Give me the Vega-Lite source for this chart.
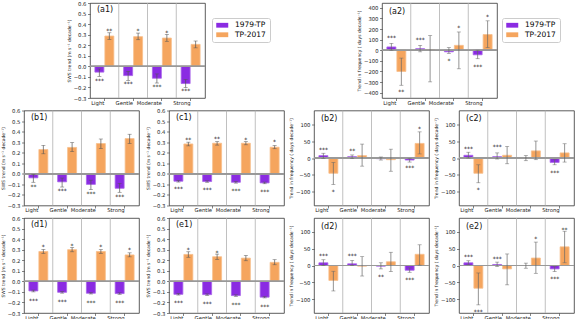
{
"$schema": "https://vega.github.io/schema/vega-lite/v6.json",
"background": "white",
"padding": {"left": 0, "top": 0, "right": 2, "bottom": 0},
"spacing": 1.5,
"resolve": {"scale": {"color": "independent", "stroke": "independent"}, "legend": {"color": "independent"}},
"config": {
  "font": "DejaVu Sans",
  "view": {"stroke": "#333", "strokeWidth": 0.8},
  "axis": {"labelFontSize": 5.3, "titleFontSize": 4.5, "titleFontWeight": "normal", "tickSize": 2.5, "tickWidth": 0.6, "tickColor": "#333", "labelColor": "#222", "titleColor": "#222", "domain": false, "grid": false, "labelPadding": 1.5, "titlePadding": 1.5, "labelOverlap": false, "labelFlush": false, "labelBound": false},
  "title": {"anchor": "start", "frame": "group", "offset": -13, "dx": 7, "fontSize": 8, "fontWeight": "normal", "color": "#111"},
  "legend": {"title": null, "symbolType": "M-1,-0.8H3V0.8H-1Z", "symbolSize": 36, "symbolStrokeWidth": 0, "labelFontSize": 7.5, "labelOffset": 12, "padding": 3.5, "strokeColor": "#ccc", "cornerRadius": 2, "fillColor": "white", "rowPadding": 0.5}
},
"vconcat": [
{"hconcat": [
  {"width": 66, "height": 95, "view": {"stroke": null}, "data": {"values": []}, "mark": "point"},
  {"width": 115, "height": 95, "title": {"text": "(a1)"},
   "data": {"values": [
    {"cat":"Light","period":"1979-TP","v":-0.055,"lo":-0.095,"hi":-0.025,"star":"***","sa":-0.125},
    {"cat":"Light","period":"TP-2017","v":0.287,"lo":0.255,"hi":0.318,"star":"**","sa":0.345},
    {"cat":"Gentle","period":"1979-TP","v":-0.088,"lo":-0.133,"hi":-0.048,"star":"***","sa":-0.15},
    {"cat":"Gentle","period":"TP-2017","v":0.281,"lo":0.252,"hi":0.315,"star":"*","sa":0.345},
    {"cat":"Moderate","period":"1979-TP","v":-0.113,"lo":-0.158,"hi":-0.072,"star":"***","sa":-0.18},
    {"cat":"Moderate","period":"TP-2017","v":0.268,"lo":0.237,"hi":0.302,"star":"*","sa":0.33},
    {"cat":"Strong","period":"1979-TP","v":-0.163,"lo":-0.2,"hi":-0.125,"star":"***","sa":-0.222},
    {"cat":"Strong","period":"TP-2017","v":0.208,"lo":0.175,"hi":0.24,"star":"","sa":null}]},
   "layer": [
    {"transform":[{"filter":"datum.period==='1979-TP' && datum.cat!=='Light'"}],"mark":{"type":"rule","color":"#b0b0b0","strokeWidth":0.8},"encoding":{"x":{"field":"cat","type":"nominal","sort":["Light","Gentle","Moderate","Strong"],"bandPosition":0}}},
    {"mark":{"type":"bar","strokeWidth":0.8},"encoding":{
      "x":{"field":"cat","type":"nominal","sort":["Light","Gentle","Moderate","Strong"],"scale":{"paddingInner":0,"paddingOuter":0},"axis":{"title":null,"labelAngle":0,"labelOverlap":false}},
      "xOffset":{"field":"period","type":"nominal","scale":{"paddingInner":0.1,"paddingOuter":0.49}},
      "y":{"field":"v","type":"quantitative","scale":{"domain":[-0.3,0.6],"nice":false,"zero":false},"axis":{"title":"SWS trend (m s⁻¹ decade⁻¹)","values":[-0.3,-0.2,-0.1,0,0.1,0.2,0.3,0.4,0.5,0.6],"tickCount":20,"format":".1f","labelOverlap":false}},
      "color":{"field":"period","type":"nominal","scale":{"domain":["1979-TP","TP-2017"],"range":["#8a2be2","#f5a55e"]},"legend":{"orient":"none","legendX":122,"legendY":15}},
      "stroke":{"field":"period","type":"nominal","scale":{"domain":["1979-TP","TP-2017"],"range":["#a865ea","#f8bf8c"]},"legend":null}}},
    {"mark":{"type":"rule","color":"#999","strokeWidth":1},"encoding":{"y":{"datum":0,"type":"quantitative"}}},
    {"mark":{"type":"rule","color":"#555","strokeWidth":0.7},"encoding":{"x":{"field":"cat","type":"nominal","sort":["Light","Gentle","Moderate","Strong"]},"xOffset":{"field":"period","type":"nominal"},"y":{"field":"lo","type":"quantitative"},"y2":{"field":"hi"}}},
    {"mark":{"type":"tick","orient":"horizontal","size":4,"thickness":0.7,"color":"#555"},"encoding":{"x":{"field":"cat","type":"nominal","sort":["Light","Gentle","Moderate","Strong"]},"xOffset":{"field":"period","type":"nominal"},"y":{"field":"lo","type":"quantitative"}}},
    {"mark":{"type":"tick","orient":"horizontal","size":4,"thickness":0.7,"color":"#555"},"encoding":{"x":{"field":"cat","type":"nominal","sort":["Light","Gentle","Moderate","Strong"]},"xOffset":{"field":"period","type":"nominal"},"y":{"field":"hi","type":"quantitative"}}},
    {"transform":[{"filter":"datum.star"}],"mark":{"type":"text","fontSize":6,"baseline":"middle","dy":1.5,"color":"#111"},"encoding":{"x":{"field":"cat","type":"nominal","sort":["Light","Gentle","Moderate","Strong"]},"xOffset":{"field":"period","type":"nominal"},"y":{"field":"sa","type":"quantitative"},"text":{"field":"star"}}}
   ]},
  {"width": 177, "height": 95, "view": {"stroke": null}, "data": {"values": []}, "mark": "point"},
  {"width": 115, "height": 95, "title": {"text": "(a2)"},
   "data": {"values": [
    {"cat":"Light","period":"1979-TP","v":31,"lo":0,"hi":65,"star":"***","sa":126},
    {"cat":"Light","period":"TP-2017","v":-200,"lo":-330,"hi":-74,"star":"**","sa":-380},
    {"cat":"Gentle","period":"1979-TP","v":15,"lo":-15,"hi":46,"star":"***","sa":108},
    {"cat":"Gentle","period":"TP-2017","v":6,"lo":-298,"hi":138,"star":"","sa":null},
    {"cat":"Moderate","period":"1979-TP","v":-15,"lo":-30,"hi":25,"star":"*","sa":-83},
    {"cat":"Moderate","period":"TP-2017","v":46,"lo":-175,"hi":172,"star":"*","sa":225},
    {"cat":"Strong","period":"1979-TP","v":-43,"lo":-80,"hi":0,"star":"***","sa":-145},
    {"cat":"Strong","period":"TP-2017","v":148,"lo":25,"hi":277,"star":"*","sa":326}]},
   "layer": [
    {"transform":[{"filter":"datum.period==='1979-TP' && datum.cat!=='Light'"}],"mark":{"type":"rule","color":"#b0b0b0","strokeWidth":0.8},"encoding":{"x":{"field":"cat","type":"nominal","sort":["Light","Gentle","Moderate","Strong"],"bandPosition":0}}},
    {"mark":{"type":"bar","strokeWidth":0.8},"encoding":{
      "x":{"field":"cat","type":"nominal","sort":["Light","Gentle","Moderate","Strong"],"scale":{"paddingInner":0,"paddingOuter":0},"axis":{"title":null,"labelAngle":0,"labelOverlap":false}},
      "xOffset":{"field":"period","type":"nominal","scale":{"paddingInner":0.1,"paddingOuter":0.49}},
      "y":{"field":"v","type":"quantitative","scale":{"domain":[-450,445],"nice":false,"zero":false},"axis":{"title":"Trend in frequency ( days decade⁻¹)","values":[-400,-300,-200,-100,0,100,200,300,400],"tickCount":20,"format":"d","labelOverlap":false}},
      "color":{"field":"period","type":"nominal","scale":{"domain":["1979-TP","TP-2017"],"range":["#8a2be2","#f5a55e"]},"legend":{"orient":"none","legendX":120,"legendY":15}},
      "stroke":{"field":"period","type":"nominal","scale":{"domain":["1979-TP","TP-2017"],"range":["#a865ea","#f8bf8c"]},"legend":null}}},
    {"mark":{"type":"rule","color":"#999","strokeWidth":1},"encoding":{"y":{"datum":0,"type":"quantitative"}}},
    {"mark":{"type":"rule","color":"#666","strokeWidth":0.7},"encoding":{"x":{"field":"cat","type":"nominal","sort":["Light","Gentle","Moderate","Strong"]},"xOffset":{"field":"period","type":"nominal"},"y":{"field":"lo","type":"quantitative"},"y2":{"field":"hi"}}},
    {"mark":{"type":"tick","orient":"horizontal","size":4,"thickness":0.7,"color":"#666"},"encoding":{"x":{"field":"cat","type":"nominal","sort":["Light","Gentle","Moderate","Strong"]},"xOffset":{"field":"period","type":"nominal"},"y":{"field":"lo","type":"quantitative"}}},
    {"mark":{"type":"tick","orient":"horizontal","size":4,"thickness":0.7,"color":"#666"},"encoding":{"x":{"field":"cat","type":"nominal","sort":["Light","Gentle","Moderate","Strong"]},"xOffset":{"field":"period","type":"nominal"},"y":{"field":"hi","type":"quantitative"}}},
    {"transform":[{"filter":"datum.star"}],"mark":{"type":"text","fontSize":6,"baseline":"middle","dy":1.5,"color":"#111"},"encoding":{"x":{"field":"cat","type":"nominal","sort":["Light","Gentle","Moderate","Strong"]},"xOffset":{"field":"period","type":"nominal"},"y":{"field":"sa","type":"quantitative"},"text":{"field":"star"}}}
   ]}
 ], "spacing": 0, "bounds": "flush", "resolve": {"scale": {"color": "independent", "stroke": "independent"}, "legend": {"color": "independent"}}},
{"hconcat": [
  {"width": 115, "height": 95, "title": {"text": "(b1)"},
   "data": {"values": [
    {"cat":"Light","period":"1979-TP","v":-0.038,"lo":-0.08,"hi":-0.006,"star":"**","sa":-0.111},
    {"cat":"Light","period":"TP-2017","v":0.23,"lo":0.19,"hi":0.27,"star":"","sa":null},
    {"cat":"Gentle","period":"1979-TP","v":-0.076,"lo":-0.125,"hi":-0.04,"star":"***","sa":-0.15},
    {"cat":"Gentle","period":"TP-2017","v":0.25,"lo":0.21,"hi":0.296,"star":"","sa":null},
    {"cat":"Moderate","period":"1979-TP","v":-0.1,"lo":-0.15,"hi":-0.06,"star":"***","sa":-0.175},
    {"cat":"Moderate","period":"TP-2017","v":0.287,"lo":0.24,"hi":0.33,"star":"","sa":null},
    {"cat":"Strong","period":"1979-TP","v":-0.137,"lo":-0.175,"hi":-0.09,"star":"***","sa":-0.207},
    {"cat":"Strong","period":"TP-2017","v":0.334,"lo":0.287,"hi":0.375,"star":"","sa":null}]},
   "layer": [
    {"transform":[{"filter":"datum.period==='1979-TP' && datum.cat!=='Light'"}],"mark":{"type":"rule","color":"#b0b0b0","strokeWidth":0.8},"encoding":{"x":{"field":"cat","type":"nominal","sort":["Light","Gentle","Moderate","Strong"],"bandPosition":0}}},
    {"mark":{"type":"bar","strokeWidth":0.8},"encoding":{
      "x":{"field":"cat","type":"nominal","sort":["Light","Gentle","Moderate","Strong"],"scale":{"paddingInner":0,"paddingOuter":0},"axis":{"title":null,"labelAngle":0,"labelOverlap":false}},
      "xOffset":{"field":"period","type":"nominal","scale":{"paddingInner":0.1,"paddingOuter":0.49}},
      "y":{"field":"v","type":"quantitative","scale":{"domain":[-0.3,0.6],"nice":false,"zero":false},"axis":{"title":"SWS trend (m s⁻¹ decade⁻¹)","values":[-0.3,-0.2,-0.1,0,0.1,0.2,0.3,0.4,0.5,0.6],"tickCount":20,"format":".1f","labelOverlap":false}},
      "color":{"field":"period","type":"nominal","scale":{"domain":["1979-TP","TP-2017"],"range":["#8a2be2","#f5a55e"]},"legend":null},
      "stroke":{"field":"period","type":"nominal","scale":{"domain":["1979-TP","TP-2017"],"range":["#a865ea","#f8bf8c"]},"legend":null}}},
    {"mark":{"type":"rule","color":"#999","strokeWidth":1},"encoding":{"y":{"datum":0,"type":"quantitative"}}},
    {"mark":{"type":"rule","color":"#555","strokeWidth":0.7},"encoding":{"x":{"field":"cat","type":"nominal","sort":["Light","Gentle","Moderate","Strong"]},"xOffset":{"field":"period","type":"nominal"},"y":{"field":"lo","type":"quantitative"},"y2":{"field":"hi"}}},
    {"mark":{"type":"tick","orient":"horizontal","size":4,"thickness":0.7,"color":"#555"},"encoding":{"x":{"field":"cat","type":"nominal","sort":["Light","Gentle","Moderate","Strong"]},"xOffset":{"field":"period","type":"nominal"},"y":{"field":"lo","type":"quantitative"}}},
    {"mark":{"type":"tick","orient":"horizontal","size":4,"thickness":0.7,"color":"#555"},"encoding":{"x":{"field":"cat","type":"nominal","sort":["Light","Gentle","Moderate","Strong"]},"xOffset":{"field":"period","type":"nominal"},"y":{"field":"hi","type":"quantitative"}}},
    {"transform":[{"filter":"datum.star"}],"mark":{"type":"text","fontSize":6,"baseline":"middle","dy":1.5,"color":"#111"},"encoding":{"x":{"field":"cat","type":"nominal","sort":["Light","Gentle","Moderate","Strong"]},"xOffset":{"field":"period","type":"nominal"},"y":{"field":"sa","type":"quantitative"},"text":{"field":"star"}}}
   ]},
  {"width": 115, "height": 95, "title": {"text": "(c1)"},
   "data": {"values": [
    {"cat":"Light","period":"1979-TP","v":-0.07,"lo":-0.078,"hi":-0.062,"star":"***","sa":-0.134},
    {"cat":"Light","period":"TP-2017","v":0.283,"lo":0.265,"hi":0.3,"star":"**","sa":0.338},
    {"cat":"Gentle","period":"1979-TP","v":-0.073,"lo":-0.08,"hi":-0.066,"star":"***","sa":-0.143},
    {"cat":"Gentle","period":"TP-2017","v":0.29,"lo":0.272,"hi":0.305,"star":"**","sa":0.344},
    {"cat":"Moderate","period":"1979-TP","v":-0.08,"lo":-0.088,"hi":-0.072,"star":"***","sa":-0.15},
    {"cat":"Moderate","period":"TP-2017","v":0.29,"lo":0.275,"hi":0.305,"star":"*","sa":0.338},
    {"cat":"Strong","period":"1979-TP","v":-0.086,"lo":-0.094,"hi":-0.078,"star":"***","sa":-0.156},
    {"cat":"Strong","period":"TP-2017","v":0.252,"lo":0.238,"hi":0.268,"star":"*","sa":0.312}]},
   "layer": [
    {"transform":[{"filter":"datum.period==='1979-TP' && datum.cat!=='Light'"}],"mark":{"type":"rule","color":"#b0b0b0","strokeWidth":0.8},"encoding":{"x":{"field":"cat","type":"nominal","sort":["Light","Gentle","Moderate","Strong"],"bandPosition":0}}},
    {"mark":{"type":"bar","strokeWidth":0.8},"encoding":{
      "x":{"field":"cat","type":"nominal","sort":["Light","Gentle","Moderate","Strong"],"scale":{"paddingInner":0,"paddingOuter":0},"axis":{"title":null,"labelAngle":0,"labelOverlap":false}},
      "xOffset":{"field":"period","type":"nominal","scale":{"paddingInner":0.1,"paddingOuter":0.49}},
      "y":{"field":"v","type":"quantitative","scale":{"domain":[-0.3,0.6],"nice":false,"zero":false},"axis":{"title":"SWS trend (m s⁻¹ decade⁻¹)","values":[-0.3,-0.2,-0.1,0,0.1,0.2,0.3,0.4,0.5,0.6],"tickCount":20,"format":".1f","labelOverlap":false}},
      "color":{"field":"period","type":"nominal","scale":{"domain":["1979-TP","TP-2017"],"range":["#8a2be2","#f5a55e"]},"legend":null},
      "stroke":{"field":"period","type":"nominal","scale":{"domain":["1979-TP","TP-2017"],"range":["#a865ea","#f8bf8c"]},"legend":null}}},
    {"mark":{"type":"rule","color":"#999","strokeWidth":1},"encoding":{"y":{"datum":0,"type":"quantitative"}}},
    {"mark":{"type":"rule","color":"#555","strokeWidth":0.7},"encoding":{"x":{"field":"cat","type":"nominal","sort":["Light","Gentle","Moderate","Strong"]},"xOffset":{"field":"period","type":"nominal"},"y":{"field":"lo","type":"quantitative"},"y2":{"field":"hi"}}},
    {"mark":{"type":"tick","orient":"horizontal","size":4,"thickness":0.7,"color":"#555"},"encoding":{"x":{"field":"cat","type":"nominal","sort":["Light","Gentle","Moderate","Strong"]},"xOffset":{"field":"period","type":"nominal"},"y":{"field":"lo","type":"quantitative"}}},
    {"mark":{"type":"tick","orient":"horizontal","size":4,"thickness":0.7,"color":"#555"},"encoding":{"x":{"field":"cat","type":"nominal","sort":["Light","Gentle","Moderate","Strong"]},"xOffset":{"field":"period","type":"nominal"},"y":{"field":"hi","type":"quantitative"}}},
    {"transform":[{"filter":"datum.star"}],"mark":{"type":"text","fontSize":6,"baseline":"middle","dy":1.5,"color":"#111"},"encoding":{"x":{"field":"cat","type":"nominal","sort":["Light","Gentle","Moderate","Strong"]},"xOffset":{"field":"period","type":"nominal"},"y":{"field":"sa","type":"quantitative"},"text":{"field":"star"}}}
   ]},
  {"width": 115, "height": 95, "title": {"text": "(b2)"},
   "data": {"values": [
    {"cat":"Light","period":"1979-TP","v":7,"lo":-1,"hi":14,"star":"***","sa":27},
    {"cat":"Light","period":"TP-2017","v":-45,"lo":-78,"hi":-13,"star":"*","sa":-96},
    {"cat":"Gentle","period":"1979-TP","v":4,"lo":-2,"hi":9,"star":"**","sa":25},
    {"cat":"Gentle","period":"TP-2017","v":7,"lo":-24,"hi":41,"star":"","sa":null},
    {"cat":"Moderate","period":"1979-TP","v":-2,"lo":-6,"hi":3,"star":"","sa":null},
    {"cat":"Moderate","period":"TP-2017","v":-5,"lo":-39,"hi":26,"star":"","sa":null},
    {"cat":"Strong","period":"1979-TP","v":-6,"lo":-12,"hi":-2,"star":"***","sa":-25},
    {"cat":"Strong","period":"TP-2017","v":43,"lo":12,"hi":77,"star":"*","sa":90}]},
   "layer": [
    {"transform":[{"filter":"datum.period==='1979-TP' && datum.cat!=='Light'"}],"mark":{"type":"rule","color":"#b0b0b0","strokeWidth":0.8},"encoding":{"x":{"field":"cat","type":"nominal","sort":["Light","Gentle","Moderate","Strong"],"bandPosition":0}}},
    {"mark":{"type":"bar","strokeWidth":0.8},"encoding":{
      "x":{"field":"cat","type":"nominal","sort":["Light","Gentle","Moderate","Strong"],"scale":{"paddingInner":0,"paddingOuter":0},"axis":{"title":null,"labelAngle":0,"labelOverlap":false}},
      "xOffset":{"field":"period","type":"nominal","scale":{"paddingInner":0.1,"paddingOuter":0.49}},
      "y":{"field":"v","type":"quantitative","scale":{"domain":[-140,140],"nice":false,"zero":false},"axis":{"title":"Trend in frequency ( days decade⁻¹)","values":[-100,-50,0,50,100],"tickCount":20,"format":"d","labelOverlap":false}},
      "color":{"field":"period","type":"nominal","scale":{"domain":["1979-TP","TP-2017"],"range":["#8a2be2","#f5a55e"]},"legend":null},
      "stroke":{"field":"period","type":"nominal","scale":{"domain":["1979-TP","TP-2017"],"range":["#a865ea","#f8bf8c"]},"legend":null}}},
    {"mark":{"type":"rule","color":"#999","strokeWidth":1},"encoding":{"y":{"datum":0,"type":"quantitative"}}},
    {"mark":{"type":"rule","color":"#666","strokeWidth":0.7},"encoding":{"x":{"field":"cat","type":"nominal","sort":["Light","Gentle","Moderate","Strong"]},"xOffset":{"field":"period","type":"nominal"},"y":{"field":"lo","type":"quantitative"},"y2":{"field":"hi"}}},
    {"mark":{"type":"tick","orient":"horizontal","size":4,"thickness":0.7,"color":"#666"},"encoding":{"x":{"field":"cat","type":"nominal","sort":["Light","Gentle","Moderate","Strong"]},"xOffset":{"field":"period","type":"nominal"},"y":{"field":"lo","type":"quantitative"}}},
    {"mark":{"type":"tick","orient":"horizontal","size":4,"thickness":0.7,"color":"#666"},"encoding":{"x":{"field":"cat","type":"nominal","sort":["Light","Gentle","Moderate","Strong"]},"xOffset":{"field":"period","type":"nominal"},"y":{"field":"hi","type":"quantitative"}}},
    {"transform":[{"filter":"datum.star"}],"mark":{"type":"text","fontSize":6,"baseline":"middle","dy":1.5,"color":"#111"},"encoding":{"x":{"field":"cat","type":"nominal","sort":["Light","Gentle","Moderate","Strong"]},"xOffset":{"field":"period","type":"nominal"},"y":{"field":"sa","type":"quantitative"},"text":{"field":"star"}}}
   ]},
  {"width": 115, "height": 95, "title": {"text": "(c2)"},
   "data": {"values": [
    {"cat":"Light","period":"1979-TP","v":8,"lo":0,"hi":17,"star":"***","sa":32},
    {"cat":"Light","period":"TP-2017","v":-45,"lo":-73,"hi":-20,"star":"*","sa":-91},
    {"cat":"Gentle","period":"1979-TP","v":4,"lo":-3,"hi":15,"star":"***","sa":36},
    {"cat":"Gentle","period":"TP-2017","v":8,"lo":-17,"hi":34,"star":"","sa":null},
    {"cat":"Moderate","period":"1979-TP","v":0,"lo":-8,"hi":7,"star":"","sa":null},
    {"cat":"Moderate","period":"TP-2017","v":21,"lo":-5,"hi":50,"star":"","sa":null},
    {"cat":"Strong","period":"1979-TP","v":-13,"lo":-20,"hi":-5,"star":"***","sa":-41},
    {"cat":"Strong","period":"TP-2017","v":15,"lo":-12,"hi":42,"star":"","sa":null}]},
   "layer": [
    {"transform":[{"filter":"datum.period==='1979-TP' && datum.cat!=='Light'"}],"mark":{"type":"rule","color":"#b0b0b0","strokeWidth":0.8},"encoding":{"x":{"field":"cat","type":"nominal","sort":["Light","Gentle","Moderate","Strong"],"bandPosition":0}}},
    {"mark":{"type":"bar","strokeWidth":0.8},"encoding":{
      "x":{"field":"cat","type":"nominal","sort":["Light","Gentle","Moderate","Strong"],"scale":{"paddingInner":0,"paddingOuter":0},"axis":{"title":null,"labelAngle":0,"labelOverlap":false}},
      "xOffset":{"field":"period","type":"nominal","scale":{"paddingInner":0.1,"paddingOuter":0.49}},
      "y":{"field":"v","type":"quantitative","scale":{"domain":[-140,140],"nice":false,"zero":false},"axis":{"title":"Trend in frequency ( days decade⁻¹)","values":[-100,-50,0,50,100],"tickCount":20,"format":"d","labelOverlap":false}},
      "color":{"field":"period","type":"nominal","scale":{"domain":["1979-TP","TP-2017"],"range":["#8a2be2","#f5a55e"]},"legend":null},
      "stroke":{"field":"period","type":"nominal","scale":{"domain":["1979-TP","TP-2017"],"range":["#a865ea","#f8bf8c"]},"legend":null}}},
    {"mark":{"type":"rule","color":"#999","strokeWidth":1},"encoding":{"y":{"datum":0,"type":"quantitative"}}},
    {"mark":{"type":"rule","color":"#666","strokeWidth":0.7},"encoding":{"x":{"field":"cat","type":"nominal","sort":["Light","Gentle","Moderate","Strong"]},"xOffset":{"field":"period","type":"nominal"},"y":{"field":"lo","type":"quantitative"},"y2":{"field":"hi"}}},
    {"mark":{"type":"tick","orient":"horizontal","size":4,"thickness":0.7,"color":"#666"},"encoding":{"x":{"field":"cat","type":"nominal","sort":["Light","Gentle","Moderate","Strong"]},"xOffset":{"field":"period","type":"nominal"},"y":{"field":"lo","type":"quantitative"}}},
    {"mark":{"type":"tick","orient":"horizontal","size":4,"thickness":0.7,"color":"#666"},"encoding":{"x":{"field":"cat","type":"nominal","sort":["Light","Gentle","Moderate","Strong"]},"xOffset":{"field":"period","type":"nominal"},"y":{"field":"hi","type":"quantitative"}}},
    {"transform":[{"filter":"datum.star"}],"mark":{"type":"text","fontSize":6,"baseline":"middle","dy":1.5,"color":"#111"},"encoding":{"x":{"field":"cat","type":"nominal","sort":["Light","Gentle","Moderate","Strong"]},"xOffset":{"field":"period","type":"nominal"},"y":{"field":"sa","type":"quantitative"},"text":{"field":"star"}}}
   ]}
 ], "spacing": 30, "bounds": "flush", "resolve": {"scale": {"color": "independent", "stroke": "independent"}, "legend": {"color": "independent"}}},
{"hconcat": [
  {"width": 115, "height": 95, "title": {"text": "(d1)"},
   "data": {"values": [
    {"cat":"Light","period":"1979-TP","v":-0.091,"lo":-0.1,"hi":-0.083,"star":"***","sa":-0.17},
    {"cat":"Light","period":"TP-2017","v":0.283,"lo":0.264,"hi":0.302,"star":"*","sa":0.34},
    {"cat":"Gentle","period":"1979-TP","v":-0.104,"lo":-0.112,"hi":-0.096,"star":"***","sa":-0.18},
    {"cat":"Gentle","period":"TP-2017","v":0.3,"lo":0.28,"hi":0.32,"star":"*","sa":0.35},
    {"cat":"Moderate","period":"1979-TP","v":-0.113,"lo":-0.12,"hi":-0.106,"star":"***","sa":-0.19},
    {"cat":"Moderate","period":"TP-2017","v":0.283,"lo":0.265,"hi":0.3,"star":"*","sa":0.34},
    {"cat":"Strong","period":"1979-TP","v":-0.116,"lo":-0.123,"hi":-0.109,"star":"***","sa":-0.19},
    {"cat":"Strong","period":"TP-2017","v":0.25,"lo":0.232,"hi":0.27,"star":"*","sa":0.308}]},
   "layer": [
    {"transform":[{"filter":"datum.period==='1979-TP' && datum.cat!=='Light'"}],"mark":{"type":"rule","color":"#b0b0b0","strokeWidth":0.8},"encoding":{"x":{"field":"cat","type":"nominal","sort":["Light","Gentle","Moderate","Strong"],"bandPosition":0}}},
    {"mark":{"type":"bar","strokeWidth":0.8},"encoding":{
      "x":{"field":"cat","type":"nominal","sort":["Light","Gentle","Moderate","Strong"],"scale":{"paddingInner":0,"paddingOuter":0},"axis":{"title":null,"labelAngle":0,"labelOverlap":false}},
      "xOffset":{"field":"period","type":"nominal","scale":{"paddingInner":0.1,"paddingOuter":0.49}},
      "y":{"field":"v","type":"quantitative","scale":{"domain":[-0.3,0.6],"nice":false,"zero":false},"axis":{"title":"SWS trend (m s⁻¹ decade⁻¹)","values":[-0.3,-0.2,-0.1,0,0.1,0.2,0.3,0.4,0.5,0.6],"tickCount":20,"format":".1f","labelOverlap":false}},
      "color":{"field":"period","type":"nominal","scale":{"domain":["1979-TP","TP-2017"],"range":["#8a2be2","#f5a55e"]},"legend":null},
      "stroke":{"field":"period","type":"nominal","scale":{"domain":["1979-TP","TP-2017"],"range":["#a865ea","#f8bf8c"]},"legend":null}}},
    {"mark":{"type":"rule","color":"#999","strokeWidth":1},"encoding":{"y":{"datum":0,"type":"quantitative"}}},
    {"mark":{"type":"rule","color":"#555","strokeWidth":0.7},"encoding":{"x":{"field":"cat","type":"nominal","sort":["Light","Gentle","Moderate","Strong"]},"xOffset":{"field":"period","type":"nominal"},"y":{"field":"lo","type":"quantitative"},"y2":{"field":"hi"}}},
    {"mark":{"type":"tick","orient":"horizontal","size":4,"thickness":0.7,"color":"#555"},"encoding":{"x":{"field":"cat","type":"nominal","sort":["Light","Gentle","Moderate","Strong"]},"xOffset":{"field":"period","type":"nominal"},"y":{"field":"lo","type":"quantitative"}}},
    {"mark":{"type":"tick","orient":"horizontal","size":4,"thickness":0.7,"color":"#555"},"encoding":{"x":{"field":"cat","type":"nominal","sort":["Light","Gentle","Moderate","Strong"]},"xOffset":{"field":"period","type":"nominal"},"y":{"field":"hi","type":"quantitative"}}},
    {"transform":[{"filter":"datum.star"}],"mark":{"type":"text","fontSize":6,"baseline":"middle","dy":1.5,"color":"#111"},"encoding":{"x":{"field":"cat","type":"nominal","sort":["Light","Gentle","Moderate","Strong"]},"xOffset":{"field":"period","type":"nominal"},"y":{"field":"sa","type":"quantitative"},"text":{"field":"star"}}}
   ]},
  {"width": 115, "height": 95, "title": {"text": "(e1)"},
   "data": {"values": [
    {"cat":"Light","period":"1979-TP","v":-0.123,"lo":-0.13,"hi":-0.115,"star":"***","sa":-0.195},
    {"cat":"Light","period":"TP-2017","v":0.255,"lo":0.228,"hi":0.28,"star":"*","sa":0.314},
    {"cat":"Gentle","period":"1979-TP","v":-0.126,"lo":-0.133,"hi":-0.119,"star":"***","sa":-0.2},
    {"cat":"Gentle","period":"TP-2017","v":0.233,"lo":0.208,"hi":0.258,"star":"*","sa":0.285},
    {"cat":"Moderate","period":"1979-TP","v":-0.135,"lo":-0.142,"hi":-0.128,"star":"***","sa":-0.21},
    {"cat":"Moderate","period":"TP-2017","v":0.22,"lo":0.195,"hi":0.245,"star":"","sa":null},
    {"cat":"Strong","period":"1979-TP","v":-0.15,"lo":-0.157,"hi":-0.143,"star":"***","sa":-0.226},
    {"cat":"Strong","period":"TP-2017","v":0.18,"lo":0.157,"hi":0.205,"star":"","sa":null}]},
   "layer": [
    {"transform":[{"filter":"datum.period==='1979-TP' && datum.cat!=='Light'"}],"mark":{"type":"rule","color":"#b0b0b0","strokeWidth":0.8},"encoding":{"x":{"field":"cat","type":"nominal","sort":["Light","Gentle","Moderate","Strong"],"bandPosition":0}}},
    {"mark":{"type":"bar","strokeWidth":0.8},"encoding":{
      "x":{"field":"cat","type":"nominal","sort":["Light","Gentle","Moderate","Strong"],"scale":{"paddingInner":0,"paddingOuter":0},"axis":{"title":null,"labelAngle":0,"labelOverlap":false}},
      "xOffset":{"field":"period","type":"nominal","scale":{"paddingInner":0.1,"paddingOuter":0.49}},
      "y":{"field":"v","type":"quantitative","scale":{"domain":[-0.3,0.6],"nice":false,"zero":false},"axis":{"title":"SWS trend (m s⁻¹ decade⁻¹)","values":[-0.3,-0.2,-0.1,0,0.1,0.2,0.3,0.4,0.5,0.6],"tickCount":20,"format":".1f","labelOverlap":false}},
      "color":{"field":"period","type":"nominal","scale":{"domain":["1979-TP","TP-2017"],"range":["#8a2be2","#f5a55e"]},"legend":null},
      "stroke":{"field":"period","type":"nominal","scale":{"domain":["1979-TP","TP-2017"],"range":["#a865ea","#f8bf8c"]},"legend":null}}},
    {"mark":{"type":"rule","color":"#999","strokeWidth":1},"encoding":{"y":{"datum":0,"type":"quantitative"}}},
    {"mark":{"type":"rule","color":"#555","strokeWidth":0.7},"encoding":{"x":{"field":"cat","type":"nominal","sort":["Light","Gentle","Moderate","Strong"]},"xOffset":{"field":"period","type":"nominal"},"y":{"field":"lo","type":"quantitative"},"y2":{"field":"hi"}}},
    {"mark":{"type":"tick","orient":"horizontal","size":4,"thickness":0.7,"color":"#555"},"encoding":{"x":{"field":"cat","type":"nominal","sort":["Light","Gentle","Moderate","Strong"]},"xOffset":{"field":"period","type":"nominal"},"y":{"field":"lo","type":"quantitative"}}},
    {"mark":{"type":"tick","orient":"horizontal","size":4,"thickness":0.7,"color":"#555"},"encoding":{"x":{"field":"cat","type":"nominal","sort":["Light","Gentle","Moderate","Strong"]},"xOffset":{"field":"period","type":"nominal"},"y":{"field":"hi","type":"quantitative"}}},
    {"transform":[{"filter":"datum.star"}],"mark":{"type":"text","fontSize":6,"baseline":"middle","dy":1.5,"color":"#111"},"encoding":{"x":{"field":"cat","type":"nominal","sort":["Light","Gentle","Moderate","Strong"]},"xOffset":{"field":"period","type":"nominal"},"y":{"field":"sa","type":"quantitative"},"text":{"field":"star"}}}
   ]},
  {"width": 115, "height": 95, "title": {"text": "(d2)"},
   "data": {"values": [
    {"cat":"Light","period":"1979-TP","v":8,"lo":0,"hi":17,"star":"***","sa":32},
    {"cat":"Light","period":"TP-2017","v":-44,"lo":-75,"hi":-17,"star":"","sa":null},
    {"cat":"Gentle","period":"1979-TP","v":5,"lo":0,"hi":15,"star":"***","sa":31},
    {"cat":"Gentle","period":"TP-2017","v":-2,"lo":-31,"hi":26,"star":"","sa":null},
    {"cat":"Moderate","period":"1979-TP","v":-2,"lo":-10,"hi":8,"star":"**","sa":-29},
    {"cat":"Moderate","period":"TP-2017","v":11,"lo":-18,"hi":39,"star":"","sa":null},
    {"cat":"Strong","period":"1979-TP","v":-14,"lo":-20,"hi":-7,"star":"***","sa":-39},
    {"cat":"Strong","period":"TP-2017","v":33,"lo":1,"hi":61,"star":"","sa":null}]},
   "layer": [
    {"transform":[{"filter":"datum.period==='1979-TP' && datum.cat!=='Light'"}],"mark":{"type":"rule","color":"#b0b0b0","strokeWidth":0.8},"encoding":{"x":{"field":"cat","type":"nominal","sort":["Light","Gentle","Moderate","Strong"],"bandPosition":0}}},
    {"mark":{"type":"bar","strokeWidth":0.8},"encoding":{
      "x":{"field":"cat","type":"nominal","sort":["Light","Gentle","Moderate","Strong"],"scale":{"paddingInner":0,"paddingOuter":0},"axis":{"title":null,"labelAngle":0,"labelOverlap":false}},
      "xOffset":{"field":"period","type":"nominal","scale":{"paddingInner":0.1,"paddingOuter":0.49}},
      "y":{"field":"v","type":"quantitative","scale":{"domain":[-140,140],"nice":false,"zero":false},"axis":{"title":"Trend in frequency ( days decade⁻¹)","values":[-100,-50,0,50,100],"tickCount":20,"format":"d","labelOverlap":false}},
      "color":{"field":"period","type":"nominal","scale":{"domain":["1979-TP","TP-2017"],"range":["#8a2be2","#f5a55e"]},"legend":null},
      "stroke":{"field":"period","type":"nominal","scale":{"domain":["1979-TP","TP-2017"],"range":["#a865ea","#f8bf8c"]},"legend":null}}},
    {"mark":{"type":"rule","color":"#999","strokeWidth":1},"encoding":{"y":{"datum":0,"type":"quantitative"}}},
    {"mark":{"type":"rule","color":"#666","strokeWidth":0.7},"encoding":{"x":{"field":"cat","type":"nominal","sort":["Light","Gentle","Moderate","Strong"]},"xOffset":{"field":"period","type":"nominal"},"y":{"field":"lo","type":"quantitative"},"y2":{"field":"hi"}}},
    {"mark":{"type":"tick","orient":"horizontal","size":4,"thickness":0.7,"color":"#666"},"encoding":{"x":{"field":"cat","type":"nominal","sort":["Light","Gentle","Moderate","Strong"]},"xOffset":{"field":"period","type":"nominal"},"y":{"field":"lo","type":"quantitative"}}},
    {"mark":{"type":"tick","orient":"horizontal","size":4,"thickness":0.7,"color":"#666"},"encoding":{"x":{"field":"cat","type":"nominal","sort":["Light","Gentle","Moderate","Strong"]},"xOffset":{"field":"period","type":"nominal"},"y":{"field":"hi","type":"quantitative"}}},
    {"transform":[{"filter":"datum.star"}],"mark":{"type":"text","fontSize":6,"baseline":"middle","dy":1.5,"color":"#111"},"encoding":{"x":{"field":"cat","type":"nominal","sort":["Light","Gentle","Moderate","Strong"]},"xOffset":{"field":"period","type":"nominal"},"y":{"field":"sa","type":"quantitative"},"text":{"field":"star"}}}
   ]},
  {"width": 115, "height": 95, "title": {"text": "(e2)"},
   "data": {"values": [
    {"cat":"Light","period":"1979-TP","v":8,"lo":2,"hi":14,"star":"***","sa":29},
    {"cat":"Light","period":"TP-2017","v":-67,"lo":-116,"hi":-22,"star":"***","sa":-132},
    {"cat":"Gentle","period":"1979-TP","v":3,"lo":-3,"hi":10,"star":"***","sa":25},
    {"cat":"Gentle","period":"TP-2017","v":-10,"lo":-57,"hi":34,"star":"","sa":null},
    {"cat":"Moderate","period":"1979-TP","v":0,"lo":-8,"hi":7,"star":"","sa":null},
    {"cat":"Moderate","period":"TP-2017","v":22,"lo":-23,"hi":69,"star":"*","sa":83},
    {"cat":"Strong","period":"1979-TP","v":-10,"lo":-18,"hi":-3,"star":"***","sa":-34},
    {"cat":"Strong","period":"TP-2017","v":55,"lo":8,"hi":101,"star":"**","sa":110}]},
   "layer": [
    {"transform":[{"filter":"datum.period==='1979-TP' && datum.cat!=='Light'"}],"mark":{"type":"rule","color":"#b0b0b0","strokeWidth":0.8},"encoding":{"x":{"field":"cat","type":"nominal","sort":["Light","Gentle","Moderate","Strong"],"bandPosition":0}}},
    {"mark":{"type":"bar","strokeWidth":0.8},"encoding":{
      "x":{"field":"cat","type":"nominal","sort":["Light","Gentle","Moderate","Strong"],"scale":{"paddingInner":0,"paddingOuter":0},"axis":{"title":null,"labelAngle":0,"labelOverlap":false}},
      "xOffset":{"field":"period","type":"nominal","scale":{"paddingInner":0.1,"paddingOuter":0.49}},
      "y":{"field":"v","type":"quantitative","scale":{"domain":[-140,140],"nice":false,"zero":false},"axis":{"title":"Trend in frequency ( days decade⁻¹)","values":[-100,-50,0,50,100],"tickCount":20,"format":"d","labelOverlap":false}},
      "color":{"field":"period","type":"nominal","scale":{"domain":["1979-TP","TP-2017"],"range":["#8a2be2","#f5a55e"]},"legend":null},
      "stroke":{"field":"period","type":"nominal","scale":{"domain":["1979-TP","TP-2017"],"range":["#a865ea","#f8bf8c"]},"legend":null}}},
    {"mark":{"type":"rule","color":"#999","strokeWidth":1},"encoding":{"y":{"datum":0,"type":"quantitative"}}},
    {"mark":{"type":"rule","color":"#666","strokeWidth":0.7},"encoding":{"x":{"field":"cat","type":"nominal","sort":["Light","Gentle","Moderate","Strong"]},"xOffset":{"field":"period","type":"nominal"},"y":{"field":"lo","type":"quantitative"},"y2":{"field":"hi"}}},
    {"mark":{"type":"tick","orient":"horizontal","size":4,"thickness":0.7,"color":"#666"},"encoding":{"x":{"field":"cat","type":"nominal","sort":["Light","Gentle","Moderate","Strong"]},"xOffset":{"field":"period","type":"nominal"},"y":{"field":"lo","type":"quantitative"}}},
    {"mark":{"type":"tick","orient":"horizontal","size":4,"thickness":0.7,"color":"#666"},"encoding":{"x":{"field":"cat","type":"nominal","sort":["Light","Gentle","Moderate","Strong"]},"xOffset":{"field":"period","type":"nominal"},"y":{"field":"hi","type":"quantitative"}}},
    {"transform":[{"filter":"datum.star"}],"mark":{"type":"text","fontSize":6,"baseline":"middle","dy":1.5,"color":"#111"},"encoding":{"x":{"field":"cat","type":"nominal","sort":["Light","Gentle","Moderate","Strong"]},"xOffset":{"field":"period","type":"nominal"},"y":{"field":"sa","type":"quantitative"},"text":{"field":"star"}}}
   ]}
 ], "spacing": 30, "bounds": "flush", "resolve": {"scale": {"color": "independent", "stroke": "independent"}, "legend": {"color": "independent"}}}
]
}
